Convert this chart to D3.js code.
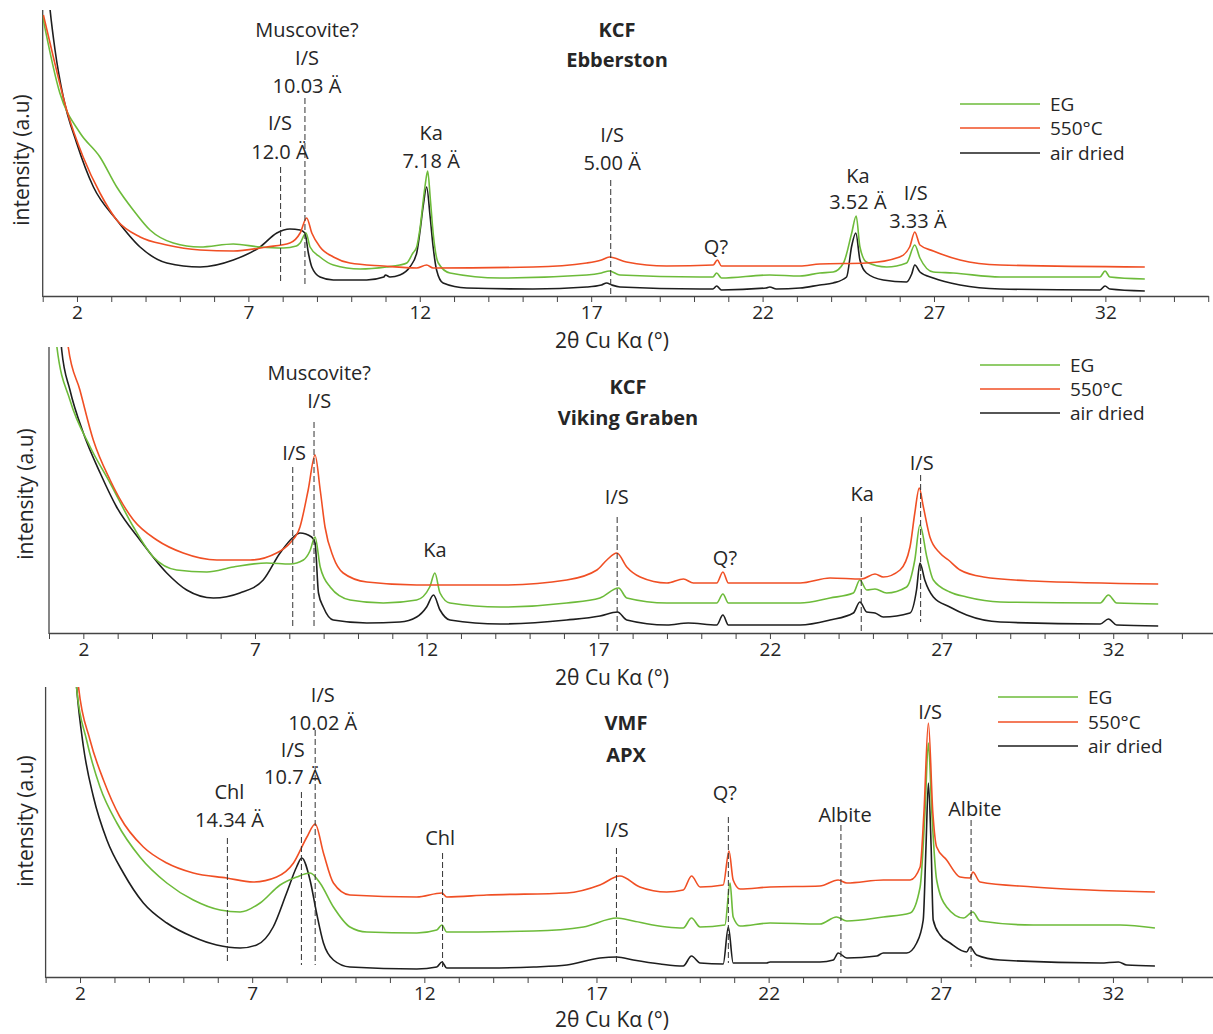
<!DOCTYPE html>
<html><head><meta charset="utf-8">
<script src="https://cdn.jsdelivr.net/npm/d3@7"></script>
<style>body{margin:0;background:#fff;} svg{display:block;font-family:'Open Sans',sans-serif;}</style>
</head><body><svg id="c" width="1213" height="1034"></svg>
<script>
// ---------------- DATA ----------------
const seriesNames = ["EG", "550°C", "air dried"];
const tickLabels = [2, 7, 12, 17, 22, 27, 32];
const xTitle = "2θ Cu Kα (°)";
const yTitle = "intensity (a.u)";
const panelTitles = [["KCF", "Ebberston"], ["KCF", "Viking Graben"], ["VMF", "APX"]];

// Panel 1 – KCF Ebberston  [2θ, intensity]
const p1Air = [[1.1,330],[1.21,288],[1.36,246],[1.6,199],[1.99,153],[2.48,109],[3.16,76],[3.84,49],[4.62,33],[5.59,29],[6.56,36],[7.34,49],[7.83,63],[8.21,67],[8.51,66],[8.65,63],[8.75,43],[8.85,29],[9.09,19],[9.48,16],[10.45,16],[10.95,19],[11.0,21],[11.13,19],[11.42,21],[11.71,29],[11.91,43],[12.0,63],[12.1,90],[12.2,109],[12.3,80],[12.39,49],[12.49,26],[12.68,13],[13.37,8],[15.3,7],[16.87,9],[17.3,11],[17.45,13],[17.6,11],[17.84,9],[20.17,7],[20.55,7],[20.66,10],[20.8,6],[22.1,8],[22.21,9],[22.4,7],[23.09,8],[23.67,11],[24.06,13],[24.45,19],[24.6,50],[24.72,63],[24.84,36],[25.03,23],[25.52,16],[26.2,14],[26.35,22],[26.44,31],[26.59,24],[26.98,18],[27.76,11],[28.93,7],[31.84,6],[31.99,10],[32.13,7],[33.15,5]];
const p1EG = [[0.99,281],[1.5,203],[2.09,163],[2.67,139],[3.16,109],[3.64,86],[4.13,66],[4.81,53],[5.59,49],[6.56,52],[7.34,49],[8.02,48],[8.4,50],[8.51,53],[8.68,63],[8.8,49],[9.09,39],[9.48,31],[10.26,27],[11.03,29],[11.42,31],[11.62,33],[11.8,43],[11.91,49],[12.0,66],[12.15,109],[12.23,125],[12.31,96],[12.39,63],[12.54,33],[12.88,23],[14.34,18],[16.87,21],[17.3,23],[17.53,25],[17.84,21],[20.17,19],[20.55,19],[20.66,23],[20.8,18],[22.21,21],[23.09,20],[23.67,23],[24.06,24],[24.36,33],[24.6,63],[24.73,80],[24.84,49],[25.03,34],[25.62,29],[26.2,33],[26.44,51],[26.59,38],[26.98,24],[27.56,23],[28.93,19],[31.84,19],[31.99,25],[32.13,19],[33.15,17]];
const p1Heat = [[1.02,281],[1.31,239],[1.7,186],[2.18,139],[2.67,103],[3.16,76],[3.84,59],[4.62,51],[5.59,46],[6.56,45],[7.53,49],[8.21,53],[8.51,63],[8.7,78],[8.85,63],[9.09,49],[9.48,39],[9.96,33],[10.94,30],[11.91,28],[12.2,31],[12.39,28],[15.31,29],[16.87,33],[17.3,36],[17.53,39],[18.03,34],[19.2,30],[20.56,31],[20.68,36],[20.8,30],[23.09,30],[23.67,32],[25.03,33],[26.0,39],[26.29,49],[26.44,64],[26.59,51],[26.98,45],[27.76,36],[28.93,31],[33.15,29]];
// dashed markers [2θ, from, to]
const p1Marks = [[7.94,129,14],[8.65,198,10],[17.57,116,1]];
// peak labels [text, 2θ, height]
const p1Labels = [["Muscovite?",8.71,266],["I/S",8.71,238],["10.03 Ä",8.71,210],["I/S",7.92,173],["12.0 Ä",7.92,144],["Ka",12.33,163],["7.18 Ä",12.33,135],["I/S",17.61,161],["5.00 Ä",17.61,133],["Q?",20.64,49],["Ka",24.78,120],["3.52 Ä",24.78,94],["I/S",26.47,103],["3.33 Ä",26.53,75]];

// Panel 2 – KCF Viking Graben
const p2Air = [[1.3,320],[1.37,283],[1.61,243],[2.0,200],[2.49,160],[2.97,126],[3.65,93],[4.43,60],[5.01,43],[5.79,35],[6.56,40],[7.24,53],[7.73,80],[8.12,96],[8.31,100],[8.65,96],[8.75,90],[8.85,40],[8.99,26],[9.28,13],[10.26,10],[11.22,11],[11.71,16],[12.0,26],[12.2,38],[12.39,23],[12.68,13],[14.14,9],[16.08,13],[17.05,17],[17.56,21],[17.83,13],[19.0,8],[19.62,10],[20.45,8],[20.63,18],[20.79,8],[22.88,8],[23.75,13],[24.43,20],[24.62,31],[24.82,21],[25.06,20],[25.3,16],[26.08,20],[26.27,43],[26.37,70],[26.51,53],[26.76,36],[27.24,26],[27.73,18],[28.71,11],[31.62,9],[31.86,14],[32.1,8],[33.31,7]];
const p2EG = [[1.15,320],[1.23,286],[1.61,233],[2.2,186],[2.78,150],[3.46,106],[4.04,76],[4.72,63],[5.6,61],[6.37,66],[7.34,70],[8.02,69],[8.41,73],[8.6,82],[8.75,96],[8.9,66],[9.19,46],[9.77,33],[10.74,30],[11.71,33],[12.09,46],[12.24,60],[12.39,40],[12.68,30],[14.14,26],[16.08,30],[17.05,35],[17.59,45],[17.83,35],[19.0,30],[20.45,30],[20.63,39],[20.79,30],[22.88,30],[23.75,35],[24.43,40],[24.62,53],[24.82,43],[25.06,44],[25.4,40],[25.98,46],[26.22,73],[26.37,108],[26.57,76],[26.76,53],[27.24,41],[27.73,36],[28.71,31],[31.62,30],[31.86,38],[32.1,30],[33.31,29]];
const p2Heat = [[1.45,330],[1.56,286],[1.9,243],[2.29,193],[2.78,153],[3.46,113],[4.14,93],[4.91,80],[5.89,73],[6.86,73],[7.63,80],[8.02,90],[8.31,106],[8.55,143],[8.75,178],[8.9,143],[9.04,106],[9.28,76],[9.57,60],[10.26,51],[11.71,48],[14.14,48],[16.08,53],[16.96,63],[17.25,73],[17.54,80],[17.83,66],[18.22,56],[19.0,50],[19.48,54],[19.77,50],[20.45,50],[20.63,61],[20.79,50],[22.88,50],[23.75,55],[24.67,54],[25.06,59],[25.3,56],[25.79,63],[26.08,86],[26.22,120],[26.35,145],[26.47,126],[26.66,96],[26.95,80],[27.2,73],[27.54,63],[28.22,56],[29.67,52],[33.31,49]];
const p2Marks = [[8.1,166,7],[8.72,211,5],[17.55,116,1],[24.66,116,0],[26.39,158,11]];
const p2Labels = [["Muscovite?",8.87,260],["I/S",8.87,232],["I/S",8.14,180],["Ka",12.24,83],["I/S",17.54,136],["Q?",20.69,75],["Ka",24.69,139],["I/S",26.42,170]];

// Panel 3 – VMF APX
const p3Air = [[1.8,340],[1.9,290],[2.1,230],[2.39,180],[2.78,137],[3.26,104],[3.84,74],[4.52,54],[5.29,40],[5.97,32],[6.65,29],[7.13,32],[7.61,50],[8.0,84],[8.29,110],[8.44,119],[8.68,97],[8.87,64],[9.07,34],[9.36,17],[9.84,10],[11.78,8],[12.36,10],[12.51,15],[12.65,9],[13.86,9],[15.17,10],[16.14,12],[17.1,19],[17.59,20],[18.07,17],[18.85,13],[19.52,11],[19.76,21],[20.01,14],[20.68,13],[20.83,50],[20.97,14],[21.94,14],[22.04,15],[23.49,15],[23.88,17],[24.02,24],[24.27,19],[25.14,21],[25.33,24],[26.01,24],[26.3,34],[26.49,57],[26.57,130],[26.64,194],[26.72,130],[26.78,57],[26.98,42],[27.27,34],[27.75,25],[27.85,30],[28.04,22],[28.72,17],[31.63,14],[32.16,15],[32.4,12],[33.22,11]];
const p3EG = [[1.8,340],[1.9,289],[2.19,237],[2.58,190],[3.07,154],[3.74,120],[4.52,94],[5.29,77],[6.07,67],[6.65,65],[7.23,74],[7.81,92],[8.29,100],[8.68,104],[8.97,94],[9.36,70],[9.84,50],[10.33,45],[11.78,44],[12.36,47],[12.51,52],[12.65,45],[15.17,46],[16.62,50],[17.59,59],[18.07,56],[19.04,50],[19.52,49],[19.76,59],[20.01,50],[20.73,52],[20.88,94],[20.97,60],[21.17,51],[22.04,54],[23.49,53],[23.97,60],[24.27,56],[25.33,60],[26.11,64],[26.4,90],[26.54,164],[26.64,234],[26.74,164],[26.88,97],[27.17,70],[27.66,59],[27.93,65],[28.14,56],[29.69,52],[32.21,52],[33.22,49]];
const p3Heat = [[1.85,340],[1.95,292],[2.29,237],[2.68,197],[3.16,160],[3.84,130],[4.52,114],[5.29,104],[6.26,99],[7.03,95],[7.71,100],[8.2,114],[8.59,140],[8.83,153],[9.07,124],[9.36,94],[9.84,82],[11.78,80],[12.51,84],[12.65,80],[13.81,82],[16.14,84],[17.1,92],[17.68,101],[18.26,90],[19.04,85],[19.52,87],[19.76,101],[20.01,90],[20.68,92],[20.85,126],[20.97,97],[21.17,88],[22.04,90],[23.49,91],[24.02,97],[24.27,94],[25.33,97],[26.11,97],[26.4,110],[26.51,164],[26.64,254],[26.77,164],[26.88,130],[27.17,117],[27.56,100],[27.85,99],[27.93,105],[28.14,95],[29.69,90],[33.22,85]];
const p3Marks = [[6.28,139,14],[8.43,185,12],[8.83,247,12],[12.53,124,7],[17.58,129,14],[20.83,160,14],[24.1,152,4],[27.88,157,10]];
const p3Labels = [["I/S",9.05,282],["10.02 Ä",9.05,254],["I/S",8.18,227],["10.7 Ä",8.18,200],["Chl",6.34,185],["14.34 Ä",6.34,157],["Chl",12.46,139],["I/S",17.59,147],["Q?",20.73,184],["Albite",24.22,162],["Albite",27.99,168],["I/S",26.69,265]];

// ---------------- LAYOUT ----------------
const colors = {eg: "#6dbb3a", heat: "#f04f24", air: "#1e1e1e"};
const textCol = "#262626";
const panels = [
  {series: [p1Air, p1EG, p1Heat], marks: p1Marks, labels: p1Labels, title: panelTitles[0],
   x0: 42.7, k: 34.28, axisY: 296, topY: 10, titleX: 617, titleY: [30, 60], legX: 960, legY: [104, 128, 153], xtY: 341, ytX: 22, ytY: 160},
  {series: [p2Air, p2EG, p2Heat], marks: p2Marks, labels: p2Labels, title: panelTitles[1],
   x0: 49, k: 34.33, axisY: 633, topY: 347, titleX: 628, titleY: [387, 418], legX: 980, legY: [365, 389, 413], xtY: 678, ytX: 26, ytY: 494},
  {series: [p3Air, p3EG, p3Heat], marks: p3Marks, labels: p3Labels, title: panelTitles[2],
   x0: 45.6, k: 34.43, axisY: 977, topY: 687, titleX: 626, titleY: [723, 755], legX: 998, legY: [697, 722, 746], xtY: 1020, ytX: 26, ytY: 821}
];
const svg = d3.select("#c");
const seriesColors = [colors.air, colors.eg, colors.heat];

panels.forEach((p, i) => {
  const x = d3.scaleLinear().domain([1, 35]).range([p.x0, p.x0 + 34 * p.k]);
  const y = d3.scaleLinear().domain([0, p.axisY - p.topY]).range([p.axisY, p.topY]);
  const g = svg.append("g");
  const clipId = "clip" + i;
  svg.append("clipPath").attr("id", clipId).append("rect")
    .attr("x", x(1)).attr("y", p.topY).attr("width", x(35) - x(1)).attr("height", p.axisY - p.topY);

  // axes
  const ax = d3.axisBottom(x).tickValues(d3.range(1, 36)).tickSize(6).tickSizeOuter(0).tickPadding(4)
    .tickFormat(d => tickLabels.includes(d) ? d : "");
  const axG = g.append("g").attr("transform", `translate(0,${p.axisY})`).call(ax);
  axG.select(".domain").attr("stroke", "#444").attr("stroke-width", 1.3);
  axG.selectAll(".tick line").attr("stroke", "#444");
  axG.selectAll(".tick text").attr("font-size", 19).attr("fill", textCol).attr("font-family", "'Open Sans',sans-serif");
  g.append("line").attr("x1", x(1)).attr("x2", x(1)).attr("y1", p.topY).attr("y2", p.axisY + 1)
    .attr("stroke", "#444").attr("stroke-width", 1.3);

  // curves
  const line = d3.line().x(d => x(d[0])).y(d => y(d[1])).curve(d3.curveMonotoneX);
  const cg = g.append("g").attr("clip-path", `url(#${clipId})`);
  p.series.forEach((s, j) => {
    cg.append("path").datum(s).attr("d", line).attr("fill", "none")
      .attr("stroke", seriesColors[j]).attr("stroke-width", 1.6).attr("stroke-linejoin", "round");
  });

  // dashed markers
  g.selectAll(".mk").data(p.marks).join("line")
    .attr("x1", d => x(d[0])).attr("x2", d => x(d[0]))
    .attr("y1", d => y(d[1])).attr("y2", d => y(d[2]))
    .attr("stroke", "#333").attr("stroke-width", 1).attr("stroke-dasharray", "6,3");

  // labels
  g.selectAll(".lb").data(p.labels).join("text")
    .attr("x", d => x(d[1])).attr("y", d => y(d[2])).attr("dy", "0.35em")
    .attr("text-anchor", "middle").attr("font-size", 20).attr("fill", textCol).text(d => d[0]);

  // title
  p.title.forEach((t, j) => {
    g.append("text").attr("x", p.titleX).attr("y", p.titleY[j]).attr("dy", "0.35em")
      .attr("text-anchor", "middle").attr("font-size", 20).attr("font-weight", "bold").attr("fill", textCol).text(t);
  });

  // legend
  const legOrder = [1, 2, 0]; // EG, 550°C, air dried
  seriesNames.forEach((n, j) => {
    g.append("line").attr("x1", p.legX).attr("x2", p.legX + 80).attr("y1", p.legY[j]).attr("y2", p.legY[j])
      .attr("stroke", seriesColors[legOrder[j]]).attr("stroke-width", 1.6);
    g.append("text").attr("x", p.legX + 90).attr("y", p.legY[j]).attr("dy", "0.35em")
      .attr("font-size", 19).attr("fill", textCol).text(n);
  });

  // axis titles
  g.append("text").attr("x", 612).attr("y", p.xtY).attr("dy", "0.35em").attr("text-anchor", "middle")
    .attr("font-size", 21).attr("fill", textCol).text(xTitle);
  g.append("text").attr("transform", `translate(${p.ytX},${p.ytY}) rotate(-90)`).attr("dy", "0.35em")
    .attr("text-anchor", "middle").attr("font-size", 21).attr("fill", textCol).text(yTitle);
});
</script></body></html>
